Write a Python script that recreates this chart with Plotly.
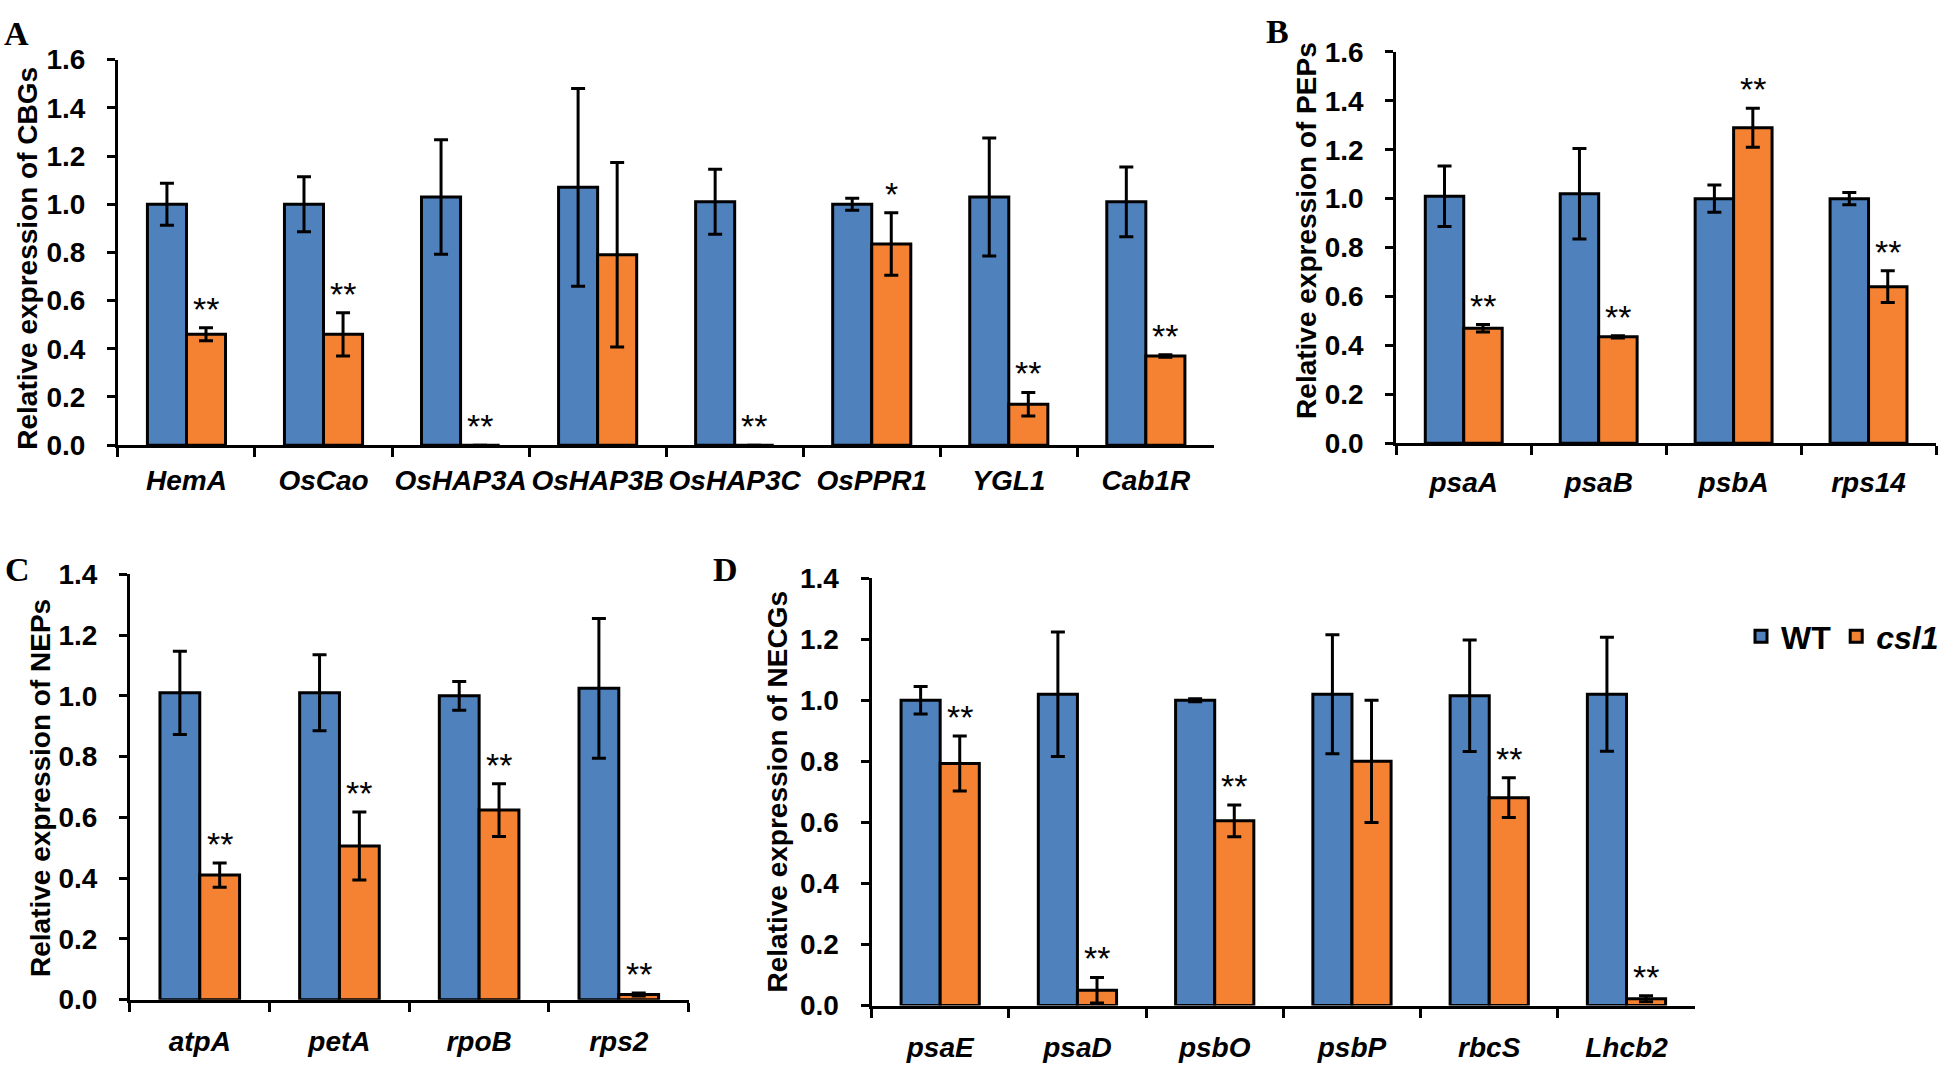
import plotly.graph_objects as go

# ---------------- data ----------------
A_genes = ["HemA", "OsCao", "OsHAP3A", "OsHAP3B", "OsHAP3C", "OsPPR1", "YGL1", "Cab1R"]
A_wt = [1.00, 1.00, 1.03, 1.07, 1.01, 1.00, 1.03, 1.01]
A_wt_err = [0.087, 0.114, 0.238, 0.41, 0.135, 0.025, 0.245, 0.145]
A_csl = [0.46, 0.46, 0.0, 0.79, 0.0, 0.835, 0.17, 0.37]
A_csl_err = [0.027, 0.09, 0.0, 0.383, 0.0, 0.13, 0.049, 0.005]
A_sig = ["**", "**", "**", "", "**", "*", "**", "**"]

B_genes = ["psaA", "psaB", "psbA", "rps14"]
B_wt = [1.01, 1.02, 1.00, 1.00]
B_wt_err = [0.124, 0.185, 0.056, 0.025]
B_csl = [0.47, 0.435, 1.29, 0.64]
B_csl_err = [0.015, 0.005, 0.08, 0.065]
B_sig = ["**", "**", "**", "**"]

C_genes = ["atpA", "petA", "rpoB", "rps2"]
C_wt = [1.01, 1.01, 1.00, 1.025]
C_wt_err = [0.137, 0.125, 0.047, 0.23]
C_csl = [0.41, 0.506, 0.624, 0.017]
C_csl_err = [0.04, 0.112, 0.087, 0.005]
C_sig = ["**", "**", "**", "**"]

D_genes = ["psaE", "psaD", "psbO", "psbP", "rbcS", "Lhcb2"]
D_wt = [1.00, 1.02, 1.00, 1.02, 1.015, 1.02]
D_wt_err = [0.045, 0.204, 0.005, 0.195, 0.183, 0.187]
D_csl = [0.793, 0.05, 0.605, 0.80, 0.681, 0.022]
D_csl_err = [0.09, 0.042, 0.052, 0.2, 0.065, 0.01]
D_sig = ["**", "**", "**", "", "**", "**"]

y_titles = ["Relative expression of CBGs", "Relative expression of PEPs",
            "Relative expression of NEPs", "Relative expression of NECGs"]
panel_letters = ["A", "B", "C", "D"]
series_names = ["WT", "csl1"]
y_max = [1.6, 1.6, 1.4, 1.4]

# ---------------- style ----------------
W, H = 1944, 1072
BLUE = "#4F81BD"
ORANGE = "#F58232"
FONT = "Liberation Sans"
BARGAP = 0.43

def px(xp):
    return xp / W

def py(yp):
    return 1 - yp / H

# axis domains (pixel extents in the figure)
dom = [
    dict(x=(118, 1215), y=(46, 443)),
    dict(x=(1397, 1937), y=(38, 441)),
    dict(x=(130, 689), y=(576, 1014)),
    dict(x=(872, 1696), y=(580, 1020)),
]
x_standoff = [8, 12, 15, 15]
title_pos = [(28, 250), (1307, 222), (41, 796), (778, 800)]
letter_pos = [(2, 19), (1265, 17), (3, 571), (711, 571)]

panels = [
    (A_genes, A_wt, A_wt_err, A_csl, A_csl_err, A_sig),
    (B_genes, B_wt, B_wt_err, B_csl, B_csl_err, B_sig),
    (C_genes, C_wt, C_wt_err, C_csl, C_csl_err, C_sig),
    (D_genes, D_wt, D_wt_err, D_csl, D_csl_err, D_sig),
]

fig = go.Figure()
annotations = []
layout_axes = {}

for i, (genes, wt, wte, cs, cse, sig) in enumerate(panels):
    n = i + 1
    xa = "x" if n == 1 else f"x{n}"
    ya = "y" if n == 1 else f"y{n}"
    err_style = dict(type="data", visible=True, color="black", thickness=3, width=7)
    fig.add_trace(go.Bar(
        x=genes, y=wt, name="<b>" + series_names[0] + "</b>",
        marker=dict(color=BLUE, line=dict(color="black", width=3)),
        error_y=dict(array=wte, **err_style),
        xaxis=xa, yaxis=ya, legendgroup="wt", showlegend=(i == 0),
    ))
    fig.add_trace(go.Bar(
        x=genes, y=cs, name="<b><i>" + series_names[1] + "</i></b>",
        marker=dict(color=ORANGE, line=dict(color="black", width=3)),
        error_y=dict(array=cse, **err_style),
        xaxis=xa, yaxis=ya, legendgroup="csl", showlegend=(i == 0),
    ))
    d = dom[i]
    xkey = "xaxis" if n == 1 else f"xaxis{n}"
    ykey = "yaxis" if n == 1 else f"yaxis{n}"
    layout_axes[xkey] = dict(
        domain=[px(d["x"][0]), px(d["x"][1])], anchor=ya, type="category",
        range=[-0.5, len(genes) - 0.5], tickson="boundaries", tickangle=0,
        ticks="outside", ticklen=9, tickwidth=3, tickcolor="black",
        showline=True, linewidth=3, linecolor="black",
        showgrid=False, zeroline=False, ticklabelstandoff=x_standoff[i],
        tickfont=dict(family=FONT, size=28, color="black", weight="bold", style="italic"),
    )
    layout_axes[ykey] = dict(
        domain=[py(d["y"][1]), py(d["y"][0])], anchor=xa,
        range=[0, y_max[i]], dtick=0.2, tickformat=".1f",
        ticks="outside", ticklen=8, tickwidth=3, tickcolor="black",
        showline=True, linewidth=3, linecolor="black",
        showgrid=False, zeroline=False, ticklabelstandoff=16,
        tickfont=dict(family=FONT, size=28, color="black", weight="bold"),
    )
    # significance marks above the csl1 bars
    off = (1 - BARGAP) / 4
    for k, s in enumerate(sig):
        if s:
            annotations.append(dict(
                x=k + off, y=cs[k] + cse[k], xref=xa, yref=ya, text=s,
                showarrow=False, yanchor="bottom", xanchor="center", yshift=-2,
                font=dict(family=FONT, size=34, color="black"),
            ))
    # y-axis title
    tx, ty = title_pos[i]
    annotations.append(dict(
        x=px(tx), y=py(ty), xref="paper", yref="paper", text=y_titles[i],
        textangle=-90, showarrow=False, xanchor="center", yanchor="middle",
        font=dict(family=FONT, size=28, color="black", weight="bold"),
    ))
    # panel letter
    lx, ly = letter_pos[i]
    annotations.append(dict(
        x=px(lx), y=py(ly), xref="paper", yref="paper", text="<b>" + panel_letters[i] + "</b>",
        showarrow=False, xanchor="left", yanchor="middle",
        font=dict(family="Liberation Serif", size=34, color="black"),
    ))

fig.update_layout(
    width=W, height=H, margin=dict(l=0, r=0, t=0, b=0),
    paper_bgcolor="white", plot_bgcolor="white",
    barmode="group", bargap=BARGAP, bargroupgap=0,
    font=dict(family=FONT, color="black"),
    legend=dict(orientation="h", x=px(1742), y=py(640), xanchor="left", yanchor="middle",
                font=dict(family=FONT, size=32, color="black"), itemwidth=30,
                bgcolor="rgba(0,0,0,0)", traceorder="normal"),
    annotations=annotations,
    **layout_axes,
)

fig.write_html("out.html", config={"displayModeBar": False},
               post_script="document.body.style.margin='0';")
